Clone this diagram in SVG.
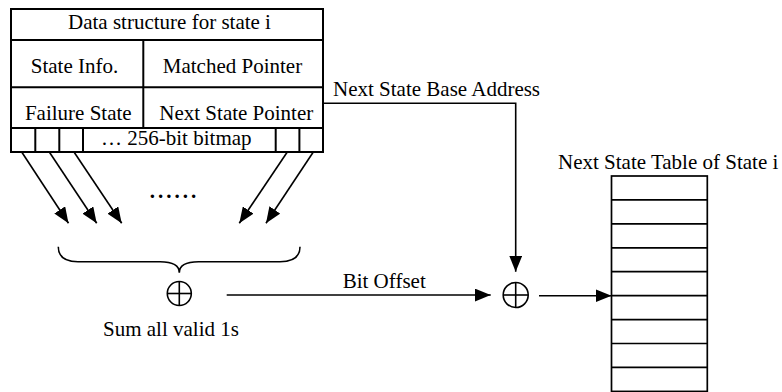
<svg xmlns="http://www.w3.org/2000/svg" width="782" height="392" viewBox="0 0 782 392">
  <style>
    text { font-family: "Liberation Serif", "Times New Roman", serif; font-size: 21px; fill: #000; }
    .mid { text-anchor: middle; }
    .box { fill: #fff; stroke: #000; stroke-width: 2; }
    .cell { fill: none; stroke: #000; stroke-width: 2; }
    .tbl { fill: #fff; stroke: #000; stroke-width: 1.7; }
    .row { fill: none; stroke: #000; stroke-width: 1.7; }
    .op { fill: none; stroke: #000; stroke-width: 1.6; }
    .wire { fill: none; stroke: #000; stroke-width: 1.6; }
    .arrow { marker-end: url(#head); }
  </style>
  <defs>
    <marker id="head" markerUnits="userSpaceOnUse" markerWidth="16" markerHeight="13" refX="16" refY="6.5" orient="auto">
      <path d="M0,0 L16,6.5 L0,13 Z" fill="#000"/>
    </marker>
  </defs>

  <rect width="782" height="392" fill="#fff"/>

  <!-- per-state data structure -->
  <g id="state-structure">
    <rect class="box" x="11" y="9" width="312" height="143"/>
    <line class="cell" x1="11" y1="40" x2="323" y2="40"/>
    <line class="cell" x1="11" y1="87.3" x2="323" y2="87.3"/>
    <line class="cell" x1="11" y1="128" x2="323" y2="128"/>
    <line class="cell" x1="143.3" y1="40" x2="143.3" y2="128"/>
    <!-- bitmap cells -->
    <line class="cell" x1="35.3" y1="128" x2="35.3" y2="152"/>
    <line class="cell" x1="59.3" y1="128" x2="59.3" y2="152"/>
    <line class="cell" x1="83" y1="128" x2="83" y2="152"/>
    <line class="cell" x1="275.7" y1="128" x2="275.7" y2="152"/>
    <line class="cell" x1="299.4" y1="128" x2="299.4" y2="152"/>
    <text class="mid" x="169.5" y="29.3">Data structure for state i</text>
    <text class="mid" x="74.5" y="72.7">State Info.</text>
    <text class="mid" x="232.5" y="72.7">Matched Pointer</text>
    <text class="mid" x="78.3" y="120">Failure State</text>
    <text class="mid" x="236.3" y="120">Next State Pointer</text>
    <text class="mid" x="176.3" y="145">… 256-bit bitmap</text>
  </g>

  <!-- bitmap summation -->
  <g id="bit-sum">
    <text class="mid" x="174.5" y="197.5" font-weight="bold" letter-spacing="3">......</text>
    <path class="wire" d="M58.3,246.7 Q58.3,261.7 78,261.7 L160,261.7 Q179.3,261.7 179.3,272.7 Q179.3,261.7 198.6,261.7 L280,261.7 Q300,261.7 300,246.7"/>
    <circle class="op" cx="179.3" cy="293.5" r="12"/>
    <line class="op" x1="167.3" y1="293.5" x2="191.3" y2="293.5"/>
    <line class="op" x1="179.3" y1="281.5" x2="179.3" y2="305.5"/>
    <text class="mid" x="171" y="336">Sum all valid 1s</text>
  </g>

  <!-- address adder -->
  <g id="address-add">
    <circle class="op" cx="515.7" cy="295" r="12.5"/>
    <line class="op" x1="503.2" y1="295" x2="528.2" y2="295"/>
    <line class="op" x1="515.7" y1="282.5" x2="515.7" y2="307.5"/>
  </g>

  <!-- next state table -->
  <g id="next-state-table">
    <text x="558" y="169">Next State Table of State i</text>
    <rect class="tbl" x="611.5" y="176" width="95.8" height="215.4"/>
    <line class="row" x1="611.5" y1="199.9" x2="707.3" y2="199.9"/>
    <line class="row" x1="611.5" y1="223.9" x2="707.3" y2="223.9"/>
    <line class="row" x1="611.5" y1="247.8" x2="707.3" y2="247.8"/>
    <line class="row" x1="611.5" y1="271.7" x2="707.3" y2="271.7"/>
    <line class="row" x1="611.5" y1="295.7" x2="707.3" y2="295.7"/>
    <line class="row" x1="611.5" y1="319.6" x2="707.3" y2="319.6"/>
    <line class="row" x1="611.5" y1="343.5" x2="707.3" y2="343.5"/>
    <line class="row" x1="611.5" y1="367.4" x2="707.3" y2="367.4"/>
  </g>

  <!-- connectors -->
  <g id="connectors">
    <line class="wire arrow" x1="21.7" y1="152" x2="68.5" y2="223.3"/>
    <line class="wire arrow" x1="49.3" y1="152" x2="96.7" y2="223.3"/>
    <line class="wire arrow" x1="74" y1="152" x2="121.7" y2="223.3"/>
    <line class="wire arrow" x1="287.3" y1="152" x2="239.3" y2="223.3"/>
    <line class="wire arrow" x1="313.3" y1="152" x2="266" y2="223.3"/>
    <path class="wire arrow" d="M323,103.3 H515.7 V271.7"/>
    <text x="333" y="96">Next State Base Address</text>
    <line class="wire arrow" x1="226.7" y1="295" x2="490.7" y2="295"/>
    <text x="342.7" y="288.3">Bit Offset</text>
    <line class="wire arrow" x1="539" y1="295.7" x2="611.5" y2="295.7"/>
  </g>
</svg>
